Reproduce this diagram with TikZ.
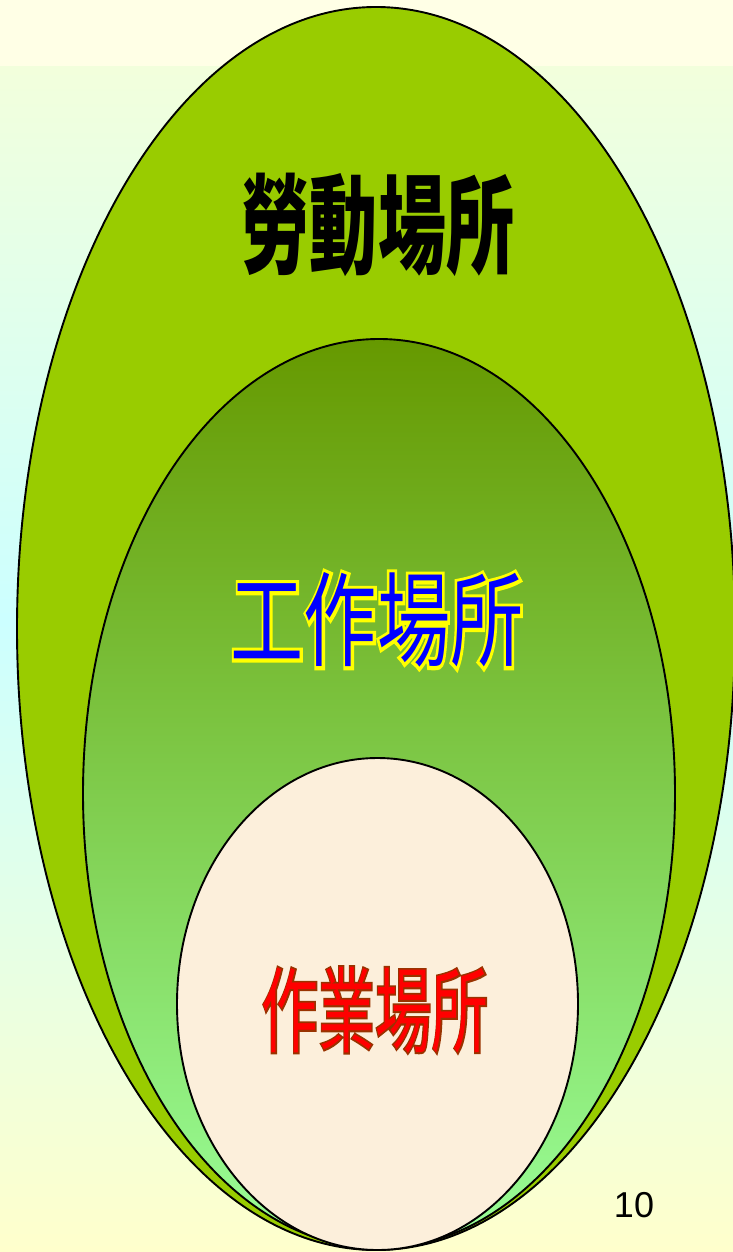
\documentclass[tikz,border=0pt]{standalone}
\usepackage{fontspec}
\setsansfont{Liberation Sans}
\newfontfamily\cjk{Noto Sans CJK TC}
\newfontfamily\cjkrim[FakeBold=7]{Noto Sans CJK TC}
\newfontfamily\cjkthinrim[FakeBold=4]{Noto Sans CJK TC}
\usetikzlibrary{shapes.geometric, calc}

\definecolor{bgtop}{HTML}{FFFFE6}
\definecolor{bgupper}{HTML}{F2FFDC}
\definecolor{bgcyan}{HTML}{CCFFFF}
\definecolor{bgbottom}{HTML}{FFFFCC}
\definecolor{outergreen}{HTML}{99CC00}
\definecolor{midtop}{HTML}{669900}
\definecolor{midbottom}{HTML}{99FF99}
\definecolor{innerbeige}{HTML}{FCEFDB}
\definecolor{workblue}{HTML}{0000FF}
\definecolor{workrim}{HTML}{FFFF00}
\definecolor{jobred}{HTML}{FF0000}
\definecolor{jobrim}{HTML}{993300}

\newcommand{\narrow}[2]{\scalebox{#1}[1]{#2}}

\begin{document}
\begin{tikzpicture}[
        x = 1pt, y = -1pt,
        area/.style = {
            ellipse,
            draw = black,
            line width = 1.9pt,
            inner sep = 0pt
        },
        labourlabel/.style = {font = \cjk\bfseries\fontsize{108}{108}\selectfont, inner sep = 0pt},
        worklabel/.style = {font = \cjk\fontsize{103}{103}\selectfont, inner sep = 0pt},
        workrimlabel/.style = {font = \cjkrim\fontsize{103}{103}\selectfont, inner sep = 0pt, text = workrim},
        joblabel/.style = {font = \cjk\fontsize{93}{93}\selectfont, inner sep = 0pt},
        jobrimlabel/.style = {font = \cjkthinrim\fontsize{93}{93}\selectfont, inner sep = 0pt, text = jobrim}
    ]

    \useasboundingbox (0,0) rectangle (733,1252);

    % background bands
    \fill[bgtop] (0,0) rectangle (733,67);
    \fill[top color = bgupper, bottom color = bgcyan] (0,67) rectangle (733,620);
    \fill[top color = bgcyan, bottom color = bgbottom] (0,620) rectangle (733,1252);

    % nested areas
    \node[area, fill = outergreen, minimum width = 718pt, minimum height = 1243pt] (labour) at (376,628.5) {};
    \node[area, top color = midtop, bottom color = midbottom, minimum width = 592pt, minimum height = 909pt] (work) at (379,793.5) {};
    \node[area, fill = innerbeige, minimum width = 401pt, minimum height = 492pt] (job) at (377.5,1004) {};

    % labels
    \coordinate (labourpos) at (378,225);
    \coordinate (workpos) at (377,620);
    \coordinate (jobpos) at (375,1010);

    \node[labourlabel] (labourtext) at (labourpos) {\narrow{0.63}{勞動場所}};

    \node[workrimlabel] (workrim) at (workpos) {\narrow{0.71}{工作場所}};
    \node[worklabel, text = workblue] (worktext) at (workpos) {\narrow{0.71}{工作場所}};

    \node[jobrimlabel] (jobrim) at (jobpos) {\narrow{0.61}{作業場所}};
    \node[joblabel, text = jobred] (jobtext) at (jobpos) {\narrow{0.61}{作業場所}};

    % slide number
    \node[font = \sffamily\fontsize{36}{36}\selectfont, inner sep = 0pt] (pageno) at (634,1205) {10};

\end{tikzpicture}
\end{document}
